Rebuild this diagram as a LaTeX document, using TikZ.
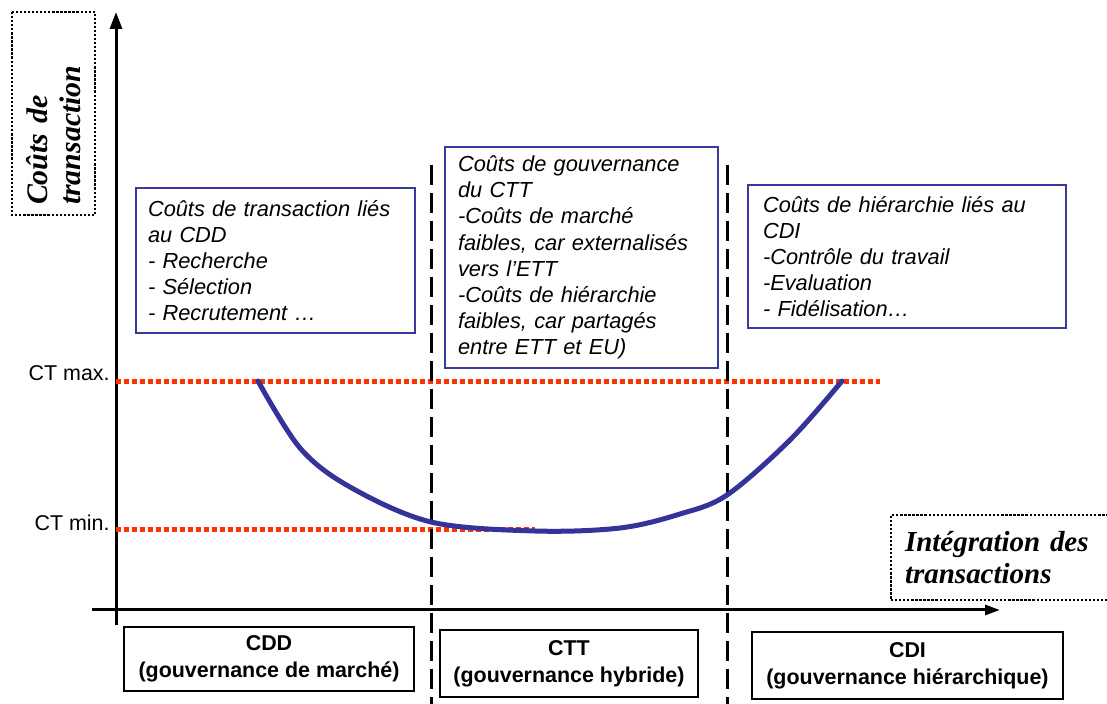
\documentclass[tikz,border=0pt]{standalone}
\usepackage{fontspec}
\setmainfont{Liberation Sans}
\newfontfamily\tms{Liberation Serif}
\usetikzlibrary{arrows.meta}
\definecolor{boxblue}{HTML}{3A3A9E}
\definecolor{curveblue}{HTML}{333399}
\definecolor{ctred}{HTML}{FF3300}
\begin{document}
\begin{tikzpicture}[x=0.02cm,y=0.02cm,line join=miter,>={Triangle[length=0.34cm,width=0.24cm]},
  costbox/.style={draw=boxblue,line width=0.8pt,align=left,font=\fontsize{12.4}{14.9}\selectfont\itshape},
  govbox/.style={draw=black,line width=0.8pt,align=center,inner sep=0pt,font=\fontsize{12.2}{15.2}\selectfont\bfseries},
  axlabel/.style={draw,densely dotted,line width=1.3pt,align=left,font=\fontsize{17}{18.5}\selectfont\tms\bfseries\itshape},
  ctlabel/.style={anchor=base east,inner sep=0pt,font=\fontsize{12.2}{14}\selectfont},
  ctline/.style={ctred,line width=0.1cm,dash pattern=on 0.1cm off 0.06cm},
  sepline/.style={line width=0.06cm,dash pattern=on 0.4cm off 0.16cm}]
\useasboundingbox (0,0) rectangle (1107,704);
% axes
\coordinate (ybot) at (116,79);
\coordinate (ytop) at (116,692);
\coordinate (xl) at (92,94);
\coordinate (xr) at (1000,94);
\draw[line width=0.06cm,->] (ybot)--(ytop);
\draw[line width=0.06cm,->,>={Triangle[length=0.3cm,width=0.2cm]}] (xl)--(xr);
% CT max / CT min
\coordinate (max0) at (116,322);
\coordinate (max1) at (880,322);
\coordinate (min0) at (116,174);
\coordinate (min1) at (535,174);
\draw[ctline] (max0)--(max1);
\draw[ctline] (min0)--(min1);
\node[ctlabel] (ctmax) at (110,323) {CT max.};
\node[ctlabel] (ctmin) at (110,173) {CT min.};
% separations
\coordinate (s1t) at (431,539);
\coordinate (s1b) at (431,0);
\coordinate (s2t) at (727,539);
\coordinate (s2b) at (727,0);
\draw[sepline] (s1t)--(s1b);
\draw[sepline] (s2t)--(s2b);
% courbe
\draw[curveblue,line width=0.1cm,line cap=round] plot[smooth,tension=0.55] coordinates
  {(258,323) (300,256) (350,217) (431,182) (535,173) (620,176) (680,190) (727,209) (790,264) (842,323)};
% boites
\node[costbox,inner xsep=0.24cm,text width=5.1cm,minimum height=2.9cm] (cdd) at (275.5,443.5)
  {Coûts de transaction liés\\au CDD\\- Recherche\\- Sélection\\- Recrutement …};
\node[costbox,inner xsep=0.26cm,text width=4.94cm,minimum height=4.42cm] (ctt) at (581.5,446.5)
  {Coûts de gouvernance\\du CTT\\-Coûts de marché\\faibles, car externalisés\\vers l’ETT\\-Coûts de hiérarchie\\faibles, car partagés\\entre ETT et EU)};
\node[costbox,inner xsep=0.3cm,text width=5.76cm,minimum height=2.86cm] (cdi) at (907,447.5)
  {Coûts de hiérarchie liés au\\CDI\\-Contrôle du travail\\-Evaluation\\- Fidélisation…};
\node[govbox,minimum width=5.8cm,minimum height=1.28cm] (gcdd) at (269,45) {CDD\\(gouvernance de marché)};
\node[govbox,minimum width=5.16cm,minimum height=1.34cm] (gctt) at (569,40.5) {CTT\\(gouvernance hybride)};
\node[govbox,minimum width=6.22cm,minimum height=1.34cm] (gcdi) at (907.5,38.5) {CDI\\(gouvernance hiérarchique)};
% titres des axes
\node[axlabel,rotate=90,inner xsep=0.2cm,text width=3.66cm,minimum height=1.66cm] (ylab) at (53.5,590.5)
  {Coûts de\\transaction};
\node[axlabel,inner xsep=0.28cm,text width=4.04cm,minimum height=1.7cm,font=\fontsize{16.5}{17.8}\selectfont\tms\bfseries\itshape] (xlab) at (1006,146.5)
  {Intégration des\\transactions};
\end{tikzpicture}
\end{document}
